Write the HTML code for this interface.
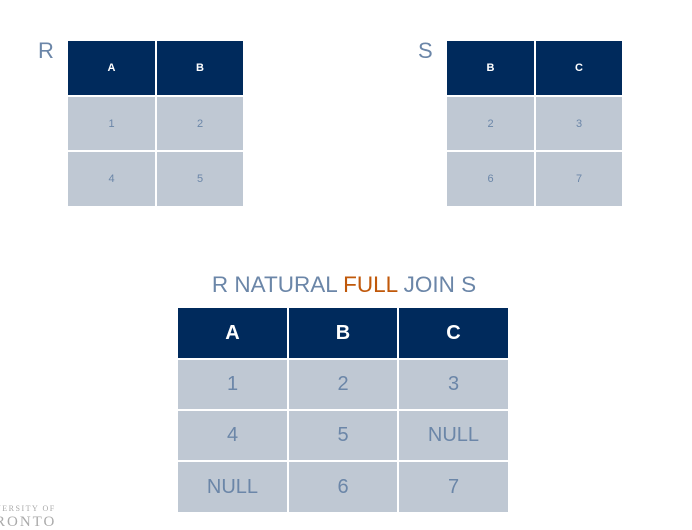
<!DOCTYPE html>
<html><head><meta charset="utf-8"><style>
body{margin:0;width:692px;height:530px;background:#fff;position:relative;overflow:hidden;font-family:"Liberation Sans",sans-serif}
.c{position:absolute;display:flex;align-items:center;justify-content:center;box-sizing:border-box}
.h{background:#002A5C;color:#fff;font-weight:bold}
.d{background:#BFC8D3;color:#6B86A8}
.lbl{position:absolute;color:#6B86A8;font-size:22px}
</style></head><body>
<div class="lbl" style="left:38px;top:38px">R</div>
<div class="lbl" style="left:418px;top:38px">S</div>
<div>
<div class="c h" style="left:68px;top:41px;width:87px;height:54px;font-size:11px">A</div>
<div class="c h" style="left:157px;top:41px;width:86px;height:54px;font-size:11px">B</div>
<div class="c d" style="left:68px;top:97px;width:87px;height:53px;font-size:11px">1</div>
<div class="c d" style="left:157px;top:97px;width:86px;height:53px;font-size:11px">2</div>
<div class="c d" style="left:68px;top:152px;width:87px;height:54px;font-size:11px">4</div>
<div class="c d" style="left:157px;top:152px;width:86px;height:54px;font-size:11px">5</div>
</div>
<div>
<div class="c h" style="left:447px;top:41px;width:87px;height:54px;font-size:11px">B</div>
<div class="c h" style="left:536px;top:41px;width:86px;height:54px;font-size:11px">C</div>
<div class="c d" style="left:447px;top:97px;width:87px;height:53px;font-size:11px">2</div>
<div class="c d" style="left:536px;top:97px;width:86px;height:53px;font-size:11px">3</div>
<div class="c d" style="left:447px;top:152px;width:87px;height:54px;font-size:11px">6</div>
<div class="c d" style="left:536px;top:152px;width:86px;height:54px;font-size:11px">7</div>
</div>
<div style="position:absolute;left:0;width:688px;top:272px;text-align:center;font-size:22.5px;color:#6B86A8">R NATURAL <span style="color:#C0580A">FULL</span> JOIN S</div>
<div>
<div class="c h" style="left:178px;top:308px;width:109px;height:50px;font-size:20px">A</div>
<div class="c h" style="left:289px;top:308px;width:108px;height:50px;font-size:20px">B</div>
<div class="c h" style="left:399px;top:308px;width:109px;height:50px;font-size:20px">C</div>
<div class="c d" style="left:178px;top:360px;width:109px;height:49px;font-size:20px">1</div>
<div class="c d" style="left:289px;top:360px;width:108px;height:49px;font-size:20px">2</div>
<div class="c d" style="left:399px;top:360px;width:109px;height:49px;font-size:20px">3</div>
<div class="c d" style="left:178px;top:411px;width:109px;height:49px;font-size:20px">4</div>
<div class="c d" style="left:289px;top:411px;width:108px;height:49px;font-size:20px">5</div>
<div class="c d" style="left:399px;top:411px;width:109px;height:49px;font-size:20px">NULL</div>
<div class="c d" style="left:178px;top:462px;width:109px;height:50px;font-size:20px">NULL</div>
<div class="c d" style="left:289px;top:462px;width:108px;height:50px;font-size:20px">6</div>
<div class="c d" style="left:399px;top:462px;width:109px;height:50px;font-size:20px">7</div>
</div>
<div style="position:absolute;left:-5px;top:505px;color:#aaa;font-family:'Liberation Serif',serif;line-height:1">
<div style="font-size:8px;letter-spacing:1.5px">VERSITY OF</div>
<div style="font-size:15px;letter-spacing:2px;margin-top:2px">RONTO</div>
</div>
</body></html>
